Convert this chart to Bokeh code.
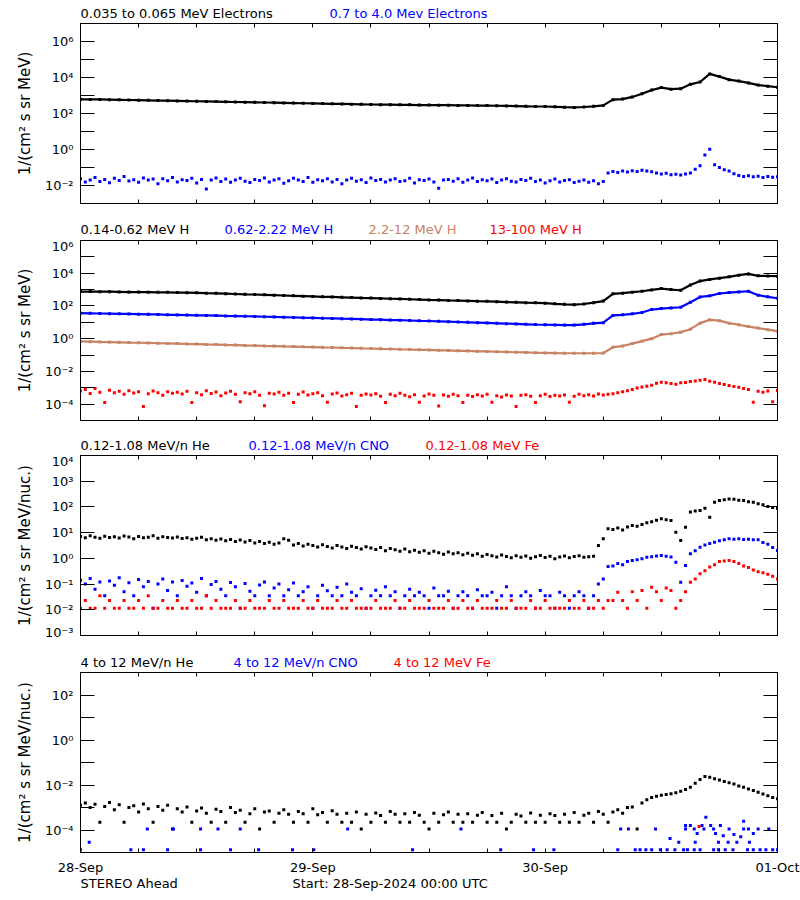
import numpy as np
from bokeh.plotting import figure
from bokeh.layouts import column
from bokeh.models import FixedTicker, LogAxis, LinearAxis, Range1d
from bokeh.core.properties import value
from bokeh.embed import file_html
from bokeh.resources import INLINE

FONT = "DejaVu Sans"
BLACK = "#000000"
BLUE = "#0000ff"
RED = "#ff0000"
BROWN = "#c88264"

# ---------------- axis categories / texts ----------------
day_ticks = [0, 24, 48, 72]                      # hours since 28-Sep 00:00 UTC
day_labels = ["28-Sep", "29-Sep", "30-Sep", "01-Oct"]
six_hour_ticks = [6, 12, 18, 30, 36, 42, 54, 60, 66]

titles1 = ["0.035 to 0.065 MeV Electrons", "0.7 to 4.0 Mev Electrons"]
titles2 = ["0.14-0.62 MeV H", "0.62-2.22 MeV H", "2.2-12 MeV H", "13-100 MeV H"]
titles3 = ["0.12-1.08 MeV/n He", "0.12-1.08 MeV/n CNO", "0.12-1.08 MeV Fe"]
titles4 = ["4 to 12 MeV/n He", "4 to 12 MeV/n CNO", "4 to 12 MeV Fe"]
footer_texts = ["STEREO Ahead", "Start: 28-Sep-2024 00:00 UTC"]

# ---------------- data (log10 of intensity) ----------------
e_low_log = [2.79, 2.78, 2.78, 2.77, 2.76, 2.75, 2.74, 2.73, 2.72, 2.71,
             2.70, 2.69, 2.68, 2.67, 2.66, 2.65, 2.64, 2.63, 2.62, 2.61,
             2.60, 2.59, 2.58, 2.57, 2.56, 2.55, 2.54, 2.53, 2.52, 2.51,
             2.50, 2.49, 2.49, 2.48, 2.48, 2.47, 2.47, 2.46, 2.46, 2.45,
             2.45, 2.44, 2.44, 2.43, 2.42, 2.41, 2.40, 2.39, 2.39, 2.37,
             2.35, 2.34, 2.36, 2.40, 2.45, 2.77, 2.80, 2.92, 3.10, 3.30,
             3.44, 3.35, 3.38, 3.62, 3.75, 4.20, 4.05, 3.88, 3.80, 3.70,
             3.58, 3.52, 3.46]
e_high_log = [-1.62, -1.80, -1.70, -1.55, -1.78, -1.66, -1.85, -1.60, -1.72, -1.50, -1.75, -1.68, -1.82, -1.58, -1.70, -1.64, -1.90, -1.62, -1.74, -1.56,
              -1.80, -1.68, -1.72, -1.60, -1.86, -1.66, -2.20, -1.70, -1.58, -1.78, -1.64, -1.82, -1.70, -1.60, -1.76, -1.84, -1.66, -1.72, -1.58, -1.80,
              -1.70, -1.62, -1.88, -1.74, -1.60, -1.70, -1.78, -1.56, -1.82, -1.68, -1.74, -1.62, -1.80, -1.66, -1.90, -1.70, -1.60, -1.76, -1.68, -1.84,
              -1.58, -1.72, -1.66, -1.80, -1.70, -1.62, -1.78, -1.74, -1.60, -1.86, -1.68, -1.72, -1.64, -1.80, -2.15, -1.70, -1.66, -1.76, -1.62, -1.82,
              -1.70, -1.58, -1.78, -1.68, -1.74, -1.64, -1.84, -1.70, -1.62, -1.76, -1.80, -1.66, -1.72, -1.60, -1.78, -1.70, -1.86, -1.74, -1.64, -1.80,
              -1.72, -1.68, -1.84, -1.76, -1.70, -1.82, -1.74, -1.90, -1.78,
              -1.30, -1.22, -1.28, -1.20, -1.25, -1.18, -1.22, -1.15, -1.20, -1.24,
              -1.30, -1.36, -1.32, -1.40, -1.38, -1.42, -1.36, -1.30, -1.10, -0.90,
              -0.30, 0.02, -0.85, -1.00, -1.12, -1.20, -1.35, -1.45, -1.50, -1.46,
              -1.52, -1.48, -1.55, -1.50, -1.54, -1.52]

h1_log = [2.88, 2.88, 2.87, 2.87, 2.86, 2.85, 2.85, 2.84, 2.83, 2.83,
          2.82, 2.81, 2.80, 2.78, 2.77, 2.75, 2.73, 2.71, 2.70, 2.68,
          2.66, 2.64, 2.62, 2.60, 2.58, 2.56, 2.55, 2.53, 2.51, 2.49,
          2.48, 2.46, 2.44, 2.43, 2.41, 2.39, 2.37, 2.36, 2.34, 2.33,
          2.31, 2.29, 2.28, 2.26, 2.24, 2.22, 2.20, 2.19, 2.17, 2.13,
          2.10, 2.08, 2.12, 2.20, 2.30, 2.74, 2.78, 2.84, 2.90, 2.98,
          3.06, 3.00, 2.96, 3.28, 3.52, 3.62, 3.70, 3.78, 3.88, 3.96,
          3.84, 3.83, 3.82]
h2_log = [1.56, 1.55, 1.54, 1.53, 1.52, 1.51, 1.50, 1.49, 1.48, 1.46,
          1.45, 1.44, 1.43, 1.42, 1.41, 1.39, 1.38, 1.37, 1.36, 1.34,
          1.33, 1.31, 1.30, 1.28, 1.27, 1.25, 1.24, 1.22, 1.21, 1.19,
          1.17, 1.16, 1.14, 1.13, 1.11, 1.09, 1.08, 1.06, 1.04, 1.02,
          1.00, 0.98, 0.96, 0.94, 0.92, 0.90, 0.88, 0.86, 0.85, 0.84,
          0.83, 0.83, 0.88, 0.94, 0.98, 1.42, 1.46, 1.52, 1.60, 1.78,
          1.84, 1.88, 1.92, 2.22, 2.55, 2.62, 2.76, 2.82, 2.86, 2.90,
          2.66, 2.56, 2.47]
h3_log = [-0.17, -0.18, -0.20, -0.21, -0.22, -0.24, -0.25, -0.26, -0.28, -0.29,
          -0.30, -0.32, -0.33, -0.35, -0.36, -0.38, -0.39, -0.41, -0.42, -0.44,
          -0.45, -0.47, -0.48, -0.50, -0.51, -0.53, -0.54, -0.56, -0.57, -0.59,
          -0.60, -0.62, -0.63, -0.65, -0.66, -0.68, -0.69, -0.71, -0.72, -0.74,
          -0.75, -0.77, -0.78, -0.80, -0.81, -0.83, -0.84, -0.86, -0.87, -0.88,
          -0.89, -0.89, -0.89, -0.89, -0.88, -0.52, -0.45, -0.30, -0.15, 0.00,
          0.25, 0.30, 0.40, 0.58, 0.95, 1.15, 1.10, 0.95, 0.85, 0.74,
          0.65, 0.55, 0.46]
h4_log = [-3.20, -3.10, -3.35, -3.05, -3.28, -3.90, -3.15, -3.30, -3.22, -3.40, -3.18, -3.32, -3.25, -4.15, -3.36, -3.20, -3.30, -3.45, -3.24, -3.34,
          -3.28, -3.38, -3.22, -3.90, -3.30, -3.42, -3.18, -3.35, -3.26, -3.48, -3.32, -3.22, -3.40, -3.85, -3.30, -3.36, -3.25, -3.45, -4.10, -3.33,
          -3.38, -3.28, -3.46, -3.34, -3.90, -3.40, -3.26, -3.44, -3.36, -3.30, -3.48, -3.88, -3.38, -3.32, -3.50, -3.42, -3.34, -4.15, -3.46, -3.38,
          -3.44, -3.36, -3.52, -3.90, -3.40, -3.48, -3.34, -3.46, -3.55, -3.42, -3.88, -3.50, -3.38, -3.46, -4.12, -3.44, -3.52, -3.40, -3.48, -3.90,
          -3.46, -3.54, -3.42, -3.50, -3.40, -3.88, -3.48, -3.56, -3.44, -3.50, -4.15, -3.46, -3.42, -3.52, -3.90, -3.48, -3.40, -3.54, -3.46, -3.50,
          -3.44, -3.88, -3.52, -3.40, -3.48, -3.42, -3.50, -3.38, -3.44, -3.40,
          -3.36, -3.30, -3.25, -3.18, -3.10, -3.02, -2.95, -2.90, -2.84, -2.72,
          -2.66, -2.70, -2.74, -2.78, -2.70, -2.68, -2.62, -2.58, -2.54, -2.50,
          -2.60, -2.66, -2.74, -2.80, -2.86, -2.92, -2.97, -3.05, -3.10, -3.88,
          -3.22, -3.28, -3.20, -3.85, -3.17]

he_low_log = [0.85, 0.80, 0.88, 0.82, 0.78, 0.86, 0.81, 0.84, 0.79, 0.87, 0.83, 0.76, 0.85, 0.80, 0.82, 0.88, 0.78, 0.84, 0.81, 0.79,
              0.83, 0.77, 0.80, 0.74, 0.78, 0.82, 0.72, 0.76, 0.70, 0.75, 0.68, 0.73, 0.66, 0.71, 0.64, 0.69, 0.60, 0.66, 0.58, 0.63,
              0.55, 0.60, 0.76, 0.70, 0.52, 0.58, 0.48, 0.55, 0.50, 0.44, 0.53, 0.46, 0.40, 0.50, 0.44, 0.38, 0.47, 0.42, 0.36, 0.45,
              0.40, 0.34, 0.42, 0.30, 0.38, 0.33, 0.28, 0.36, 0.26, 0.32, 0.24, 0.30, 0.20, 0.28, 0.22, 0.16, 0.25, 0.18, 0.22, 0.14,
              0.20, 0.12, 0.18, 0.08, 0.15, 0.10, 0.05, 0.13, 0.07, 0.02, 0.10, 0.04, 0.09, 0.00, 0.06, 0.11, 0.03, 0.08, -0.02, 0.05,
              0.09, 0.02, 0.07, 0.10, 0.04, 0.06, 0.08, 0.50, 0.76, 1.15,
              1.12, 1.18, 1.10, 1.22, 1.28, 1.25, 1.32, 1.38, 1.42, 1.48,
              1.54, 1.50, 1.47, 1.02, 0.69, 1.21, 1.80, 1.84, 1.86, 1.95,
              1.60, 2.18, 2.25, 2.28, 2.31, 2.30, 2.26, 2.25, 2.20, 2.18,
              2.12, 2.08, 2.02, 1.98, 1.95]
cno_low_log = [-0.85, -1.00, -0.78, -1.20, -0.92, -1.45, -0.88, -1.05, -0.75, -1.30, -0.95, -1.45, -0.82, -1.10, -0.90, -1.94, -1.00, -0.80, -1.25, -0.92,
               -1.45, -0.86, -1.08, -0.96, -1.32, -0.78, -1.45, -1.02, -0.90, -1.20, -1.45, -0.94, -1.10, -1.94, -0.98, -1.28, -1.45, -1.04, -0.92, -1.45,
               -1.15, -1.00, -1.45, -1.22, -0.96, -1.45, -1.30, -1.10, -1.94, -1.45, -1.05, -1.26, -1.45, -1.12, -1.45, -1.00, -1.32, -1.45, -1.18, -1.94,
               -1.45, -1.24, -1.45, -1.10, -1.45, -1.30, -1.94, -1.45, -1.20, -1.45, -1.32, -1.45, -1.94, -1.15, -1.45, -1.45, -1.28, -1.94, -1.45, -1.30,
               -1.45, -1.94, -1.22, -1.45, -1.45, -1.32, -1.94, -1.45, -1.10, -1.45, -1.94, -1.45, -1.30, -1.45, -1.94, -1.25, -1.45, -1.45, -1.94, -1.32,
               -1.45, -1.94, -1.45, -1.30, -1.45, -1.94, -1.45, -1.00, -0.80, -0.32,
               -0.30, -0.20, -0.25, -0.12, -0.08, -0.05, -0.02, 0.04, 0.06, 0.09,
               0.11, 0.08, 0.05, -0.15, -0.93, -0.28, 0.18, 0.30, 0.43, 0.52,
               0.58, 0.63, 0.68, 0.72, 0.76, 0.74, 0.76, 0.73, 0.74, 0.72,
               0.72, 0.62, 0.55, 0.42, 0.31]
fe_low_log = [-1.94, -1.64, -1.94, -1.94, -1.45, -1.94, -1.64, -1.94, -1.94, -1.64, -1.94, -1.94, -1.64, -1.94, -1.45, -1.94, -1.94, -1.64, -1.94, -1.94,
              -1.64, -1.94, -1.94, -1.64, -1.94, -1.94, -1.45, -1.94, -1.64, -1.94, -1.94, -1.94, -1.64, -1.94, -1.94, -1.64, -1.94, -1.94, -1.94, -1.64,
              -1.94, -1.94, -1.64, -1.94, -1.94, -1.94, -1.64, -1.94, -1.94, -1.64, -1.94, -1.94, -1.94, -1.64, -1.94, -1.94, -1.64, -1.94, -1.94, -1.94,
              -1.94, -1.64, -1.94, -1.94, -1.94, -1.64, -1.94, -1.94, -1.64, -1.94, -1.94, -1.94, -1.64, -1.94, -1.94, -1.94, -1.64, -1.94, -1.94, -1.64,
              -1.94, -1.94, -1.64, -1.94, -1.94, -1.94, -1.64, -1.94, -1.94, -1.64, -1.94, -1.94, -1.94, -1.64, -1.94, -1.94, -1.64, -1.94, -1.94, -1.94,
              -1.94, -1.64, -1.94, -1.94, -1.64, -1.94, -1.94, -1.64, -1.94, -1.64,
              -1.64, -1.32, -1.64, -1.94, -1.30, -1.64, -1.25, -1.94, -1.12, -1.30,
              -1.64, -1.15, -1.25, -1.94, -1.64, -1.30, -0.93, -0.80, -0.60, -0.48,
              -0.34, -0.25, -0.12, -0.10, -0.08, -0.12, -0.20, -0.30, -0.36, -0.45,
              -0.52, -0.56, -0.62, -0.70, -0.80]

he_high_log = [-2.90, -2.80, -3.00, -2.85, -3.65, -2.95, -2.78, -3.10, -2.88, -3.65, -3.00, -2.92, -3.20, -2.84, -3.05, -3.65, -2.96, -3.12, -2.90, -3.95,
               -3.05, -3.20, -2.98, -3.65, -3.15, -3.02, -3.25, -3.65, -3.08, -3.18, -3.65, -3.00, -3.22, -3.12, -3.65, -3.28, -3.06, -3.95, -3.20, -3.15,
               -3.65, -3.25, -3.10, -3.30, -3.65, -3.18, -3.28, -3.65, -3.05, -3.32, -3.22, -3.65, -3.14, -3.30, -3.65, -3.26, -3.65, -3.20, -3.95, -3.30,
               -3.65, -3.24, -3.36, -3.65, -3.18, -3.30, -3.65, -3.28, -3.65, -3.22, -3.34, -3.65, -3.95, -3.26, -3.65, -3.32, -3.20, -3.65, -3.30, -3.65,
               -3.28, -3.65, -3.34, -3.22, -3.65, -3.36, -3.65, -3.26, -3.95, -3.65, -3.30, -3.38, -3.65, -3.24, -3.65, -3.34, -3.65, -3.28, -3.36, -3.65,
               -3.30, -3.65, -3.22, -3.65, -3.34, -3.26, -3.65, -3.18, -3.30, -3.65,
               -3.20, -3.10, -3.25, -3.00, -2.98, -3.95, -2.80, -2.65, -2.55, -2.50,
               -2.45, -2.42, -2.39, -2.34, -2.28, -2.20, -2.10, -1.92, -1.75, -1.62,
               -1.66, -1.72, -1.78, -1.84, -1.90, -1.96, -2.04, -2.10, -2.18, -2.24,
               -2.32, -2.40, -2.48, -2.55, -2.61]
cno_high_hours = [0.0, 5.2, 6.5, 9.0, 12.4, 15.5, 18.4, 21.9, 24.1, 34.3, 43.4, 46.8, 48.9, 55.5,
                  57.3, 57.8, 58.4, 59.0, 59.9, 60.6, 61.4, 62.3, 62.7, 63.4, 64.0, 65.4, 65.9, 66.6,
                  67.4, 68.9, 69.5, 70.2, 70.8, 71.5, 72.0,
                  6.9, 9.6, 12.4, 14.2, 16.5, 27.6, 39.3, 55.8, 56.6, 59.4, 62.5, 63.4, 64.4, 65.4,
                  67.0, 68.5, 69.0, 70.0, 71.1,
                  0.9, 62.5, 63.0, 64.2, 65.1, 66.1, 64.6, 68.5, 63.7, 65.6, 66.4, 67.5, 68.2, 69.5,
                  60.9, 61.8, 63.5, 65.9, 66.9, 67.8, 69.1]
cno_high_log = [-4.88, -4.88, -4.88, -4.88, -4.88, -4.88, -4.88, -4.88, -4.88, -4.88, -4.88, -4.88, -4.88, -4.88,
                -4.88, -4.88, -4.88, -4.88, -4.88, -4.88, -4.88, -4.88, -4.88, -4.88, -4.88, -4.88, -4.88, -4.88,
                -4.88, -4.88, -4.88, -4.88, -4.88, -4.88, -4.88,
                -3.95, -3.95, -3.95, -3.95, -3.95, -3.95, -3.95, -3.95, -3.95, -3.95, -3.95, -3.95, -3.95, -3.95,
                -3.95, -3.95, -3.95, -3.95, -3.95,
                -4.54, -3.80, -3.80, -3.80, -3.80, -3.80, -3.43, -3.61, -4.15, -4.15, -4.25, -4.20, -4.30, -4.15,
                -4.38, -4.54, -4.54, -4.54, -4.54, -4.54, -4.54]
fe_high_hours = [63.9]
fe_high_log = [-3.84]


def half_hours(vals):
    return [0.5 * i for i in range(len(vals))]


def hours(vals):
    return [1.0 * i for i in range(len(vals))]


def lin(vals):
    return [10.0 ** v for v in vals]


SUP = str.maketrans("-0123456789", "⁻⁰¹²³⁴⁵⁶⁷⁸⁹")


def dec_label(k):
    return "10" + str(k).translate(SUP)


def hide_labels(axis):
    axis.major_label_text_font_size = "1px"
    axis.major_label_text_color = None
    axis.major_label_standoff = 0


FRAME_L, FRAME_R = 80, 777


def text_strip(height, texts, colors, xs, y_from_top):
    """A borderless strip holding one row of coloured texts.
    Its frame is aligned with the panels' frames (page pixels 80..777)."""
    s = figure(frame_width=FRAME_R - FRAME_L, frame_height=height,
               x_range=Range1d(FRAME_L, FRAME_R), y_range=Range1d(0, height),
               x_axis_type=None, y_axis_type=None,
               min_border_left=FRAME_L, min_border_right=800 - FRAME_R,
               min_border_top=0, min_border_bottom=0,
               output_backend="svg", toolbar_location=None)
    s.outline_line_color = None
    s.text(x=xs, y=[height - y_from_top] * len(texts), text=texts, text_color=colors,
           text_font=value(FONT), text_font_size=value("13px"),
           text_baseline="middle", text_align="left")
    return s


def make_panel(ylo, yhi, step, ylabel, bot_b, show_dates=False):
    p = figure(frame_width=FRAME_R - FRAME_L, frame_height=180,
               x_range=Range1d(0, 72), y_range=Range1d(10.0 ** ylo, 10.0 ** yhi),
               y_axis_type="log", output_backend="svg", toolbar_location=None,
               min_border_left=FRAME_L, min_border_right=800 - FRAME_R,
               min_border_top=2, min_border_bottom=bot_b)
    p.xgrid.visible = False
    p.ygrid.visible = False
    p.outline_line_color = "black"
    p.outline_line_width = 1

    decades = list(range(ylo, yhi + 1))
    major = [10.0 ** k for k in decades if (k % step == 0)]
    minor = [10.0 ** k for k in decades if (k % step != 0)]
    overrides = {10.0 ** k: dec_label(k) for k in decades}

    ax = p.yaxis[0]
    ax.ticker = FixedTicker(ticks=major, minor_ticks=minor)
    ax.major_label_overrides = overrides
    ax.major_tick_in = 14
    ax.major_tick_out = 0
    ax.minor_tick_in = 14
    ax.minor_tick_out = 0
    ax.major_label_standoff = 7
    ax.major_label_text_font = FONT
    ax.major_label_text_font_size = "13px"
    ax.major_label_text_color = "black"
    ax.axis_label = ylabel
    ax.axis_label_text_font = FONT
    ax.axis_label_text_font_size = "15px"
    ax.axis_label_text_font_style = "normal"
    ax.axis_label_text_color = "black"
    ax.axis_label_standoff = 8
    ax.axis_line_color = "black"

    rax = LogAxis(ticker=FixedTicker(ticks=major, minor_ticks=minor),
                  major_tick_in=14, major_tick_out=0, minor_tick_in=14, minor_tick_out=0,
                  axis_line_color="black")
    hide_labels(rax)
    p.add_layout(rax, "right")

    bx = p.below[0]
    bx.ticker = FixedTicker(ticks=day_ticks, minor_ticks=six_hour_ticks)
    bx.major_tick_in = 4
    bx.major_tick_out = 0
    bx.minor_tick_in = 4
    bx.minor_tick_out = 0
    bx.axis_line_color = "black"
    if show_dates:
        bx.major_label_overrides = {t: lab for t, lab in zip(day_ticks, day_labels)}
        bx.major_label_text_font = FONT
        bx.major_label_text_font_size = "13px"
        bx.major_label_text_color = "black"
        bx.major_label_standoff = 7
    else:
        hide_labels(bx)

    tax = LinearAxis(ticker=FixedTicker(ticks=day_ticks, minor_ticks=six_hour_ticks),
                     major_tick_in=4, major_tick_out=0, minor_tick_in=4, minor_tick_out=0,
                     axis_line_color="black")
    hide_labels(tax)
    p.add_layout(tax, "above")
    return p


def dots(p, x, logv, color, size=3):
    p.scatter(x, lin(logv), marker="square", size=size, fill_color=color, line_color=None)


def trace(p, x, logv, color):
    p.line(x, lin(logv), line_color=color, line_width=2.2)
    dots(p, x, logv, color, size=3)


UNIT_A = "1/(cm² s sr MeV)"
UNIT_B = "1/(cm² s sr MeV/nuc.)"

t1 = text_strip(21, titles1, [BLACK, BLUE], [80, 329], 13)
p1 = make_panel(-3, 7, 2, UNIT_A, 4)
trace(p1, hours(e_low_log), e_low_log, BLACK)
dots(p1, half_hours(e_high_log), e_high_log, BLUE)

t2 = text_strip(31, titles2, [BLACK, BLUE, BROWN, RED], [80, 224, 368, 489], 22)
p2 = make_panel(-5, 6, 2, UNIT_A, 4)
trace(p2, hours(h1_log), h1_log, BLACK)
trace(p2, hours(h2_log), h2_log, BLUE)
trace(p2, hours(h3_log), h3_log, BROWN)
dots(p2, half_hours(h4_log), h4_log, RED)

t3 = text_strip(29, titles3, [BLACK, BLUE, RED], [80, 248, 425], 21)
p3 = make_panel(-3, 4, 1, UNIT_B, 4)
dots(p3, half_hours(he_low_log), he_low_log, BLACK)
dots(p3, half_hours(cno_low_log), cno_low_log, BLUE)
dots(p3, half_hours(fe_low_log), fe_low_log, RED)

t4 = text_strip(31, titles4, [BLACK, BLUE, RED], [80, 233, 393], 22.5)
p4 = make_panel(-5, 3, 2, UNIT_B, 22, show_dates=True)
dots(p4, half_hours(he_high_log), he_high_log, BLACK)
dots(p4, cno_high_hours, cno_high_log, BLUE)
dots(p4, fe_high_hours, fe_high_log, RED)

foot = text_strip(22, footer_texts, [BLACK, BLACK], [80, 292], 5.5)

layout = column(t1, p1, t2, p2, t3, p3, t4, p4, foot, spacing=0)
open("out.html", "w").write(file_html(layout, INLINE))
